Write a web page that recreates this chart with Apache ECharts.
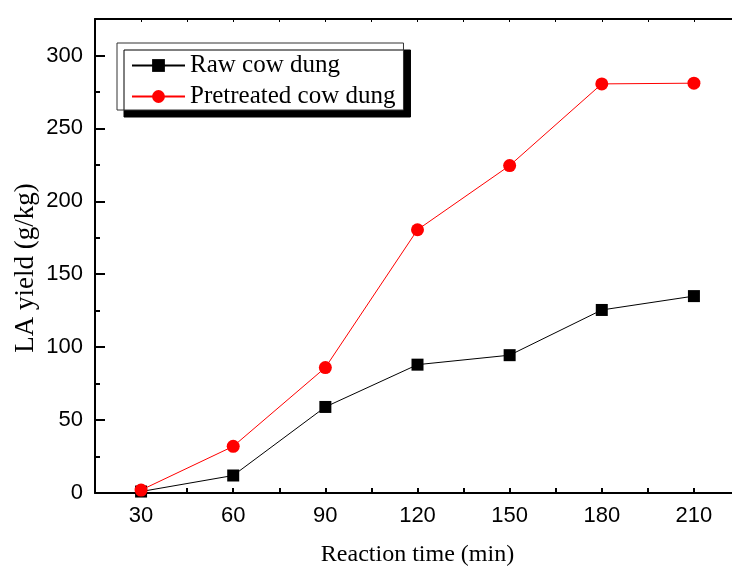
<!DOCTYPE html>
<html>
<head>
<meta charset="utf-8">
<script src="https://cdn.jsdelivr.net/npm/echarts@6/dist/echarts.min.js"></script>
<style>
    html, body { margin: 0; padding: 0; background: #fff; }
    #chart { width: 732px; height: 568px; }
</style>
</head>
<body>
<div id="chart"></div>
<script>
// reaction time (min)
const times = ['30', '60', '90', '120', '150', '180', '210']
// LA yield (g/kg)
const rawDung = [1, 12, 59, 88, 94.5, 125.5, 135]
const pretreatedDung = [2, 32, 86, 180.5, 224.5, 280.5, 281]

const serifFont = '"Liberation Serif", "Times New Roman", serif'
const sansFont = '"Liberation Sans", Arial, sans-serif'

const chart = echarts.init(document.getElementById('chart'))

chart.setOption({
    animation: false,
    backgroundColor: '#fff',
    // right edge of the frame sits just off the canvas, as in the cropped original
    grid: { left: 95, top: 19, right: -8, bottom: 75, outerBoundsMode: 'none', containLabel: false },
    legend: {
        orient: 'vertical',
        left: 117,
        top: 43,
        padding: [10, 8, 1, 14],
        itemGap: 6,
        itemWidth: 53,
        itemHeight: 16,
        backgroundColor: '#fff',
        borderColor: '#333',
        borderWidth: 1,
        shadowColor: '#000',
        shadowBlur: 0,
        shadowOffsetX: 7,
        shadowOffsetY: 7,
        textStyle: { fontFamily: serifFont, fontSize: 25, color: '#000' },
        data: ['Raw cow dung', 'Pretreated cow dung']
    },
    graphic: [
        {
            type: 'text',
            x: 26,
            y: 268,
            rotation: Math.PI / 2,
            style: {
                text: 'LA yield (g/kg)',
                font: '27px ' + serifFont,
                fill: '#000',
                align: 'center',
                verticalAlign: 'middle'
            }
        }
    ],
    xAxis: [
        {
            type: 'category',
            data: times,
            boundaryGap: true,
            position: 'bottom',
            name: 'Reaction time (min)',
            nameLocation: 'middle',
            nameGap: 50,
            nameTextStyle: { fontFamily: serifFont, fontSize: 24, color: '#000' },
            axisLine: { lineStyle: { color: '#000', width: 2 } },
            axisTick: { alignWithLabel: true, inside: true, length: 9, lineStyle: { color: '#000', width: 2 } },
            axisLabel: { fontFamily: sansFont, fontSize: 22, color: '#000', margin: 12 },
            splitLine: { show: false }
        },
        {
            // minor ticks on the bottom edge
            type: 'value',
            min: 15,
            max: 225,
            interval: 15,
            position: 'bottom',
            axisLine: { show: false },
            axisTick: { inside: true, length: 5, lineStyle: { color: '#000', width: 2 } },
            axisLabel: { show: false },
            splitLine: { show: false }
        },
        {
            // top frame
            type: 'value',
            min: 15,
            max: 225,
            interval: 15,
            position: 'top',
            axisLine: { show: true, lineStyle: { color: '#000', width: 2 } },
            axisTick: { inside: true, length: 3, lineStyle: { color: '#000', width: 1 } },
            axisLabel: { show: false },
            splitLine: { show: false }
        }
    ],
    yAxis: {
        type: 'value',
        min: 0,
        max: 325,
        interval: 50,
        axisLine: { show: true, lineStyle: { color: '#000', width: 2 } },
        axisTick: { inside: true, length: 10, lineStyle: { color: '#000', width: 2 } },
        minorTick: { show: true, splitNumber: 2, length: 5, lineStyle: { color: '#000', width: 2 } },
        axisLabel: { fontFamily: sansFont, fontSize: 22, color: '#000', margin: 12, showMaxLabel: false },
        splitLine: { show: false }
    },
    series: [
        {
            name: 'Raw cow dung',
            type: 'line',
            xAxisIndex: 0,
            data: rawDung,
            symbol: 'rect',
            symbolSize: 12,
            itemStyle: { color: '#000' },
            lineStyle: { color: '#000', width: 1 }
        },
        {
            name: 'Pretreated cow dung',
            type: 'line',
            xAxisIndex: 0,
            data: pretreatedDung,
            symbol: 'circle',
            symbolSize: 13,
            itemStyle: { color: '#ff0000' },
            lineStyle: { color: '#ff0000', width: 1 }
        }
    ]
})
</script>
</body>
</html>
